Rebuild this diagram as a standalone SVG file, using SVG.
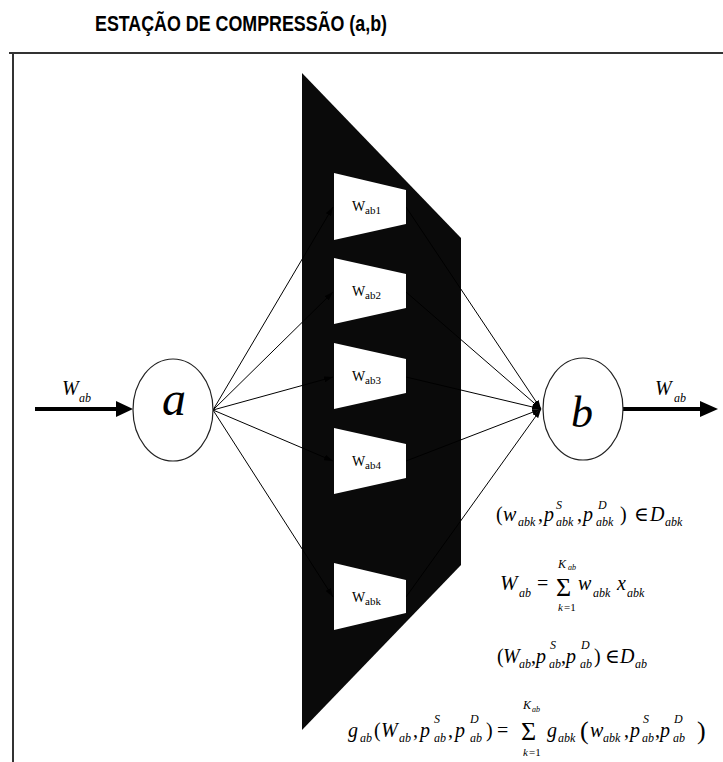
<svg xmlns="http://www.w3.org/2000/svg" width="723" height="762" viewBox="0 0 723 762">
<style>
.title{font-family:"Liberation Sans",Arial,sans-serif;font-weight:bold;font-size:22px;fill:#000}
.m{font-family:"Liberation Serif","DejaVu Serif",serif;font-style:italic;font-size:20px;fill:#000}
.u{font-style:normal}
.s{font-size:12px}
.lbl{font-family:"Liberation Serif","DejaVu Serif",serif;font-size:14px;fill:#000}
.lbls{font-size:11px}
.node{fill:#fff;stroke:#222;stroke-width:1.2}
.comp{fill:#fff;stroke:none}
.conn{stroke:#000;stroke-width:1;fill:none;marker-end:url(#ah)}
.big{font-family:"Liberation Serif","DejaVu Serif",serif;font-style:italic;fill:#000}
</style>
<defs>
<marker id="ah" markerWidth="9" markerHeight="6" refX="9" refY="3" orient="auto" markerUnits="userSpaceOnUse"><path d="M0,0 L9,3 L0,6 z" fill="#000"/></marker>
</defs>
<rect width="723" height="762" fill="#fff"/>
<text class="title" x="95" y="31" textLength="292" lengthAdjust="spacingAndGlyphs">ESTAÇÃO DE COMPRESSÃO (a,b)</text>
<g id="frame" stroke="#333" stroke-width="2" fill="none">
<line x1="9" y1="53" x2="723" y2="53"/>
<line x1="13" y1="53" x2="13" y2="762"/>
</g>
<g id="station">
<polygon points="302,73 461,238 461,565 302,730" fill="#0a0a0a"/>
</g>
<g id="connectors">
<line class="conn" x1="213" y1="410" x2="333" y2="207"/>
<line class="conn" x1="213" y1="410" x2="333" y2="292"/>
<line class="conn" x1="213" y1="410" x2="333" y2="377"/>
<line class="conn" x1="213" y1="410" x2="333" y2="461"/>
<line class="conn" x1="213" y1="410" x2="333" y2="597"/>
<line class="conn" x1="406" y1="207" x2="541" y2="409"/>
<line class="conn" x1="406" y1="292" x2="541" y2="409"/>
<line class="conn" x1="406" y1="377" x2="541" y2="409"/>
<line class="conn" x1="406" y1="461" x2="541" y2="409"/>
<line class="conn" x1="406" y1="597" x2="541" y2="409"/>
<line x1="35" y1="409" x2="118" y2="409" stroke="#000" stroke-width="4"/>
<polygon points="116,401 133,409 116,417" fill="#000"/>
<line x1="623" y1="409" x2="703" y2="409" stroke="#000" stroke-width="4"/>
<polygon points="700,401 718,409 700,417" fill="#000"/>
</g>
<g id="wab1">
<polygon class="comp" points="334,173 406,190 406,224 334,240"/>
<text class="lbl" x="352" y="211">W<tspan class="lbls" x="365" y="214">ab1</tspan></text>
</g>
<g id="wab2">
<polygon class="comp" points="334,258 406,274 406,308 334,324"/>
<text class="lbl" x="352" y="296">W<tspan class="lbls" x="365" y="299">ab2</tspan></text>
</g>
<g id="wab3">
<polygon class="comp" points="334,343 406,359 406,393 334,409"/>
<text class="lbl" x="352" y="381">W<tspan class="lbls" x="365" y="384">ab3</tspan></text>
</g>
<g id="wab4">
<polygon class="comp" points="334,428 406,444 406,478 334,494"/>
<text class="lbl" x="352" y="466">W<tspan class="lbls" x="365" y="469">ab4</tspan></text>
</g>
<g id="wabk">
<polygon class="comp" points="334,563 406,580 406,613 334,630"/>
<text class="lbl" x="352" y="602">W<tspan class="lbls" x="365" y="605">abk</tspan></text>
</g>
<g id="node-a">
<ellipse class="node" cx="173" cy="410" rx="40" ry="51"/>
<text class="big" x="162" y="415" font-size="48">a</text>
</g>
<g id="node-b">
<ellipse class="node" cx="583" cy="409" rx="40" ry="51"/>
<text class="big" x="571" y="427" font-size="44">b</text>
</g>
<g id="label-in">
<text class="m" x="62" y="395" font-size="22">W<tspan class="s" x="79" y="402" font-size="13">ab</tspan></text>
</g>
<g id="label-out">
<text class="m" x="655" y="395" font-size="22">W<tspan class="s" x="674" y="402" font-size="13">ab</tspan></text>
</g>
<g id="eq1">
<text class="m" y="521"><tspan class="u" x="496">(</tspan><tspan x="503">w</tspan><tspan class="s" x="518" y="526">abk</tspan><tspan class="u" x="538" y="521">,</tspan><tspan x="544">p</tspan><tspan class="s" x="556" y="509">S</tspan><tspan class="s" x="556" y="526">abk</tspan><tspan class="u" x="577" y="521">,</tspan><tspan x="583">p</tspan><tspan class="s" x="598" y="509">D</tspan><tspan class="s" x="596" y="526">abk</tspan><tspan class="u" x="620" y="521">)</tspan><tspan class="u" x="634">∈</tspan><tspan x="650">D</tspan><tspan class="s" x="665" y="526">abk</tspan></text>
</g>
<g id="eq2">
<text class="m" y="590"><tspan x="500" font-size="21">W</tspan><tspan class="s" x="519" y="597">ab</tspan><tspan class="u" x="537" y="590">=</tspan><tspan class="u" x="556" y="596" font-size="26">Σ</tspan><tspan x="558" y="568" font-size="12">K</tspan><tspan x="568" y="570" font-size="8">ab</tspan><tspan x="558" y="611" font-size="11">k</tspan><tspan class="u" x="564" y="611" font-size="11">=1</tspan><tspan x="578" y="590">w</tspan><tspan class="s" x="593" y="597">abk</tspan><tspan x="617" y="590">x</tspan><tspan class="s" x="627" y="597">abk</tspan></text>
</g>
<g id="eq3">
<text class="m" y="663"><tspan class="u" x="497">(</tspan><tspan x="503">W</tspan><tspan class="s" x="519" y="668">ab</tspan><tspan class="u" x="531" y="663">,</tspan><tspan x="536">p</tspan><tspan class="s" x="550" y="649">S</tspan><tspan class="s" x="549" y="668">ab</tspan><tspan class="u" x="561" y="663">,</tspan><tspan x="566">p</tspan><tspan class="s" x="581" y="649">D</tspan><tspan class="s" x="580" y="668">ab</tspan><tspan class="u" x="594" y="663">)</tspan><tspan class="u" x="605">∈</tspan><tspan x="620">D</tspan><tspan class="s" x="635" y="668">ab</tspan></text>
</g>
<g id="eq4">
<text class="m" y="737"><tspan x="348">g</tspan><tspan class="s" x="360" y="742">ab</tspan><tspan class="u" x="374" y="737">(</tspan><tspan x="381">W</tspan><tspan class="s" x="399" y="742">ab</tspan><tspan class="u" x="413" y="737">,</tspan><tspan x="420">p</tspan><tspan class="s" x="434" y="723">S</tspan><tspan class="s" x="434" y="742">ab</tspan><tspan class="u" x="448" y="737">,</tspan><tspan x="455">p</tspan><tspan class="s" x="470" y="723">D</tspan><tspan class="s" x="470" y="742">ab</tspan><tspan class="u" x="486" y="737">)</tspan><tspan class="u" x="497">=</tspan><tspan class="u" x="521" y="740" font-size="26">Σ</tspan><tspan x="523" y="709" font-size="12">K</tspan><tspan x="532" y="712" font-size="8">ab</tspan><tspan x="523" y="756" font-size="11">k</tspan><tspan class="u" x="529" y="756" font-size="11">=1</tspan><tspan x="547" y="737">g</tspan><tspan class="s" x="558" y="742">abk</tspan><tspan class="u" x="580" y="739" font-size="26">(</tspan><tspan x="590" y="737">w</tspan><tspan class="s" x="603" y="742">abk</tspan><tspan class="u" x="624" y="737">,</tspan><tspan x="630">p</tspan><tspan class="s" x="643" y="723">S</tspan><tspan class="s" x="642" y="742">ab</tspan><tspan class="u" x="655" y="737">,</tspan><tspan x="660">p</tspan><tspan class="s" x="674" y="723">D</tspan><tspan class="s" x="673" y="742">ab</tspan><tspan class="u" x="697" y="739" font-size="26">)</tspan></text>
</g>
</svg>
